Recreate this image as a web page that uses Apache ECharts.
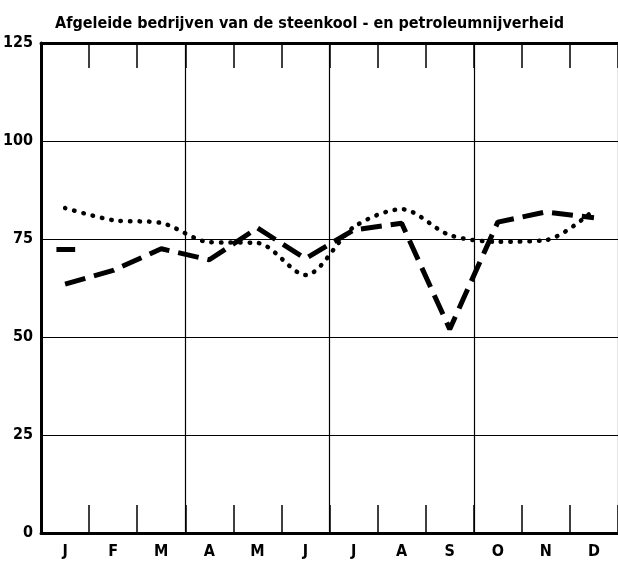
<!DOCTYPE html>
<html>
<head>
<meta charset="utf-8">
<script src="https://cdn.jsdelivr.net/npm/echarts@6/dist/echarts.min.js"></script>
<style>
  html, body { margin: 0; padding: 0; background: #fff; }
  #chart { width: 618px; height: 562px; }
</style>
</head>
<body>
<div id="chart"></div>
<script>
// months (Dutch initials) and index values
const maanden = ['J', 'F', 'M', 'A', 'M', 'J', 'J', 'A', 'S', 'O', 'N', 'D'];
const reeksGestreept = [63.5, 67, 72.5, 69.7, 77.8, 70, 77.3, 79, 52, 79.3, 81.9, 80.4];
const reeksGestippeld = [82.9, 79.8, 79.1, 74.2, 74, 65.8, 78, 82.6, 76, 74.3, 74.7, 82.4];
const vorigJaarNiveau = 72.3;
const yTicks = [0, 25, 50, 75, 100, 125];

const fontFam = '"Liberation Sans Narrow", "DejaVu Sans Condensed", "Liberation Sans", sans-serif';

var myChart = echarts.init(document.getElementById('chart'));

var option = {
    animation: false,
    backgroundColor: '#fff',
    title: {
        text: 'Afgeleide bedrijven van de steenkool - en petroleumnijverheid',
        left: 50,
        top: 11,
        textStyle: { fontFamily: fontFam, fontWeight: 'bold', fontSize: 16, color: '#000' }
    },
    grid: { left: 41, top: 43, width: 588, height: 490 },
    xAxis: [
        {
            type: 'category',
            data: maanden,
            boundaryGap: true,
            axisLine: { lineStyle: { color: '#000', width: 3 } },
            axisTick: { show: true, inside: true, length: 28, interval: 0, lineStyle: { color: '#000', width: 1.5 } },
            axisLabel: { interval: 0, margin: 11, fontFamily: fontFam, fontWeight: 'bold', fontSize: 16, color: '#000' },
            splitLine: {
                show: true,
                interval: function (i) { return i > 0 && i % 3 === 0; },
                lineStyle: { color: '#000', width: 1.2 }
            }
        },
        {
            type: 'category',
            data: maanden,
            position: 'top',
            boundaryGap: true,
            axisLine: { lineStyle: { color: '#000', width: 3 } },
            axisTick: { show: true, inside: true, length: 25, interval: 0, lineStyle: { color: '#000', width: 1.5 } },
            axisLabel: { show: false },
            splitLine: { show: false }
        },
        {
            type: 'value',
            min: 0,
            max: 12,
            show: false
        }
    ],
    yAxis: {
        type: 'value',
        min: yTicks[0],
        max: yTicks[yTicks.length - 1],
        interval: 25,
        axisLine: { show: true, lineStyle: { color: '#000', width: 3 } },
        axisTick: { show: false },
        axisLabel: { margin: 8, fontFamily: fontFam, fontWeight: 'bold', fontSize: 16, color: '#000' },
        splitLine: { show: true, lineStyle: { color: '#000', width: 1.2 } }
    },
    series: [
        {
            type: 'line',
            data: reeksGestippeld,
            xAxisIndex: 0,
            symbol: 'none',
            smooth: 0.3,
            lineStyle: { color: '#000', width: 4.5, type: [0.5, 9], cap: 'round' }
        },
        {
            type: 'line',
            data: reeksGestreept,
            xAxisIndex: 0,
            symbol: 'none',
            lineStyle: { color: '#000', width: 5, type: [21, 9] }
        },
        {
            // short marker of the previous level at January
            type: 'line',
            xAxisIndex: 2,
            data: [[0.32, vorigJaarNiveau], [0.71, vorigJaarNiveau]],
            symbol: 'none',
            lineStyle: { color: '#000', width: 5 }
        }
    ]
};

myChart.setOption(option);
</script>
</body>
</html>
